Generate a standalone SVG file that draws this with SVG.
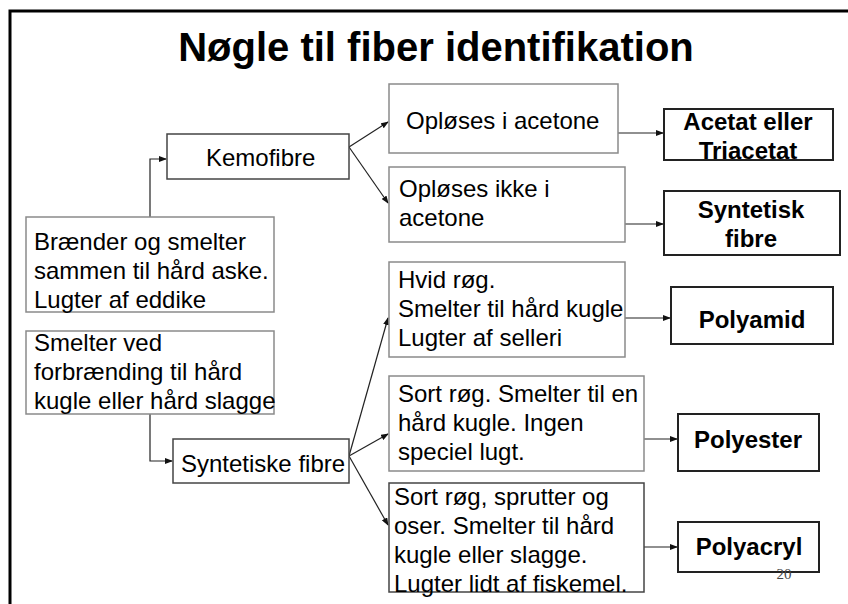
<svg xmlns="http://www.w3.org/2000/svg" width="848" height="604" viewBox="0 0 848 604">
<defs>
<marker id="ah" markerWidth="8" markerHeight="6" refX="7" refY="3" orient="auto" markerUnits="userSpaceOnUse">
<path d="M0,0 L8,3 L0,6 Z" fill="#111"/>
</marker>
<style>
.t{font-family:"Liberation Sans",Arial,sans-serif;font-size:24px;fill:#000}
.b{font-family:"Liberation Sans",Arial,sans-serif;font-size:24px;font-weight:bold;fill:#000;text-anchor:middle}
.g{fill:#fff;stroke:#8a8a8a;stroke-width:1.5}
.d{fill:#fff;stroke:#444;stroke-width:1.5}
.k{fill:#fff;stroke:#222;stroke-width:2}
.c{fill:none;stroke:#222;stroke-width:1.2;marker-end:url(#ah)}
</style>
</defs>
<rect width="848" height="604" fill="#fff"/>
<path d="M10,604 V11 H848" fill="none" stroke="#000" stroke-width="3"/>
<text x="436" y="61" style="font-family:'Liberation Sans',Arial,sans-serif;font-size:40px;font-weight:bold;text-anchor:middle">Nøgle til fiber identifikation</text>

<g id="connectors">
<path class="c" d="M150,217 V159 H166"/>
<path class="c" d="M150,414 V461 H172"/>
<path class="c" d="M349,147 L388,122"/>
<path class="c" d="M349,147 L388,203"/>
<path class="c" d="M349,456 L388,318"/>
<path class="c" d="M349,456 L388,434"/>
<path class="c" d="M349,456 L388,525"/>
<path class="c" d="M618,133 H663"/>
<path class="c" d="M625,224 H663"/>
<path class="c" d="M623,318 H670"/>
<path class="c" d="M644,439 H677"/>
<path class="c" d="M644,547 H677"/>
</g>

<g id="kemofibre"><rect class="d" x="167" y="134" width="182" height="45"/><text class="t" x="206" y="166">Kemofibre</text></g>
<g id="braender"><rect class="g" x="26" y="217" width="248" height="95"/>
<text class="t" x="34" y="250">Brænder og smelter</text><text class="t" x="34" y="279">sammen til hård aske.</text><text class="t" x="34" y="308">Lugter af eddike</text></g>
<g id="smelterved"><rect class="g" x="26" y="331" width="248" height="83"/>
<text class="t" x="34" y="351">Smelter ved</text><text class="t" x="34" y="380">forbrænding til hård</text><text class="t" x="34" y="409">kugle eller hård slagge</text></g>
<g id="syntetiskefibre"><rect class="d" x="173" y="439" width="176" height="44"/><text class="t" x="181" y="472">Syntetiske fibre</text></g>

<g id="oploeses"><rect class="g" x="389" y="84" width="229" height="69"/><text class="t" x="406" y="129">Opløses i acetone</text></g>
<g id="oploesesikke"><rect class="g" x="389" y="167" width="236" height="75"/><text class="t" x="399" y="197">Opløses ikke i</text><text class="t" x="399" y="226">acetone</text></g>
<g id="hvidroeg"><rect class="g" x="389" y="262" width="236" height="95"/>
<text class="t" x="398" y="288">Hvid røg.</text><text class="t" x="398" y="317">Smelter til hård kugle</text><text class="t" x="398" y="346">Lugter af selleri</text></g>
<g id="sortroeg1"><rect class="g" x="389" y="376" width="255" height="95"/>
<text class="t" x="398" y="402">Sort røg. Smelter til en</text><text class="t" x="398" y="431">hård kugle. Ingen</text><text class="t" x="398" y="460">speciel lugt.</text></g>
<g id="sortroeg2"><rect class="d" x="389" y="483" width="255" height="109"/>
<text class="t" x="394" y="505">Sort røg, sprutter og</text><text class="t" x="394" y="534">oser. Smelter til hård</text><text class="t" x="394" y="563">kugle eller slagge.</text><text class="t" x="394" y="592">Lugter lidt af fiskemel.</text></g>

<g id="acetat"><rect class="k" x="664" y="109" width="169" height="51" fill="none"/><text class="b" x="748" y="130">Acetat eller</text><text class="b" x="748" y="159">Triacetat</text><path d="M664,160 H833" stroke="#222" stroke-width="2"/></g>
<g id="syntetisk"><rect class="k" x="664" y="191" width="176" height="64"/><text class="b" x="751" y="218">Syntetisk</text><text class="b" x="751" y="247">fibre</text></g>
<g id="polyamid"><rect class="k" x="671" y="287" width="162" height="57"/><text class="b" x="752" y="328">Polyamid</text></g>
<g id="polyester"><rect class="k" x="678" y="414" width="141" height="57"/><text class="b" x="748" y="448">Polyester</text></g>
<g id="polyacryl"><rect class="k" x="678" y="522" width="141" height="50"/><text class="b" x="749" y="555">Polyacryl</text></g>
<text x="784" y="579" style="font-family:'Liberation Serif',serif;font-size:15px;fill:#444;text-anchor:middle">20</text>
</svg>
